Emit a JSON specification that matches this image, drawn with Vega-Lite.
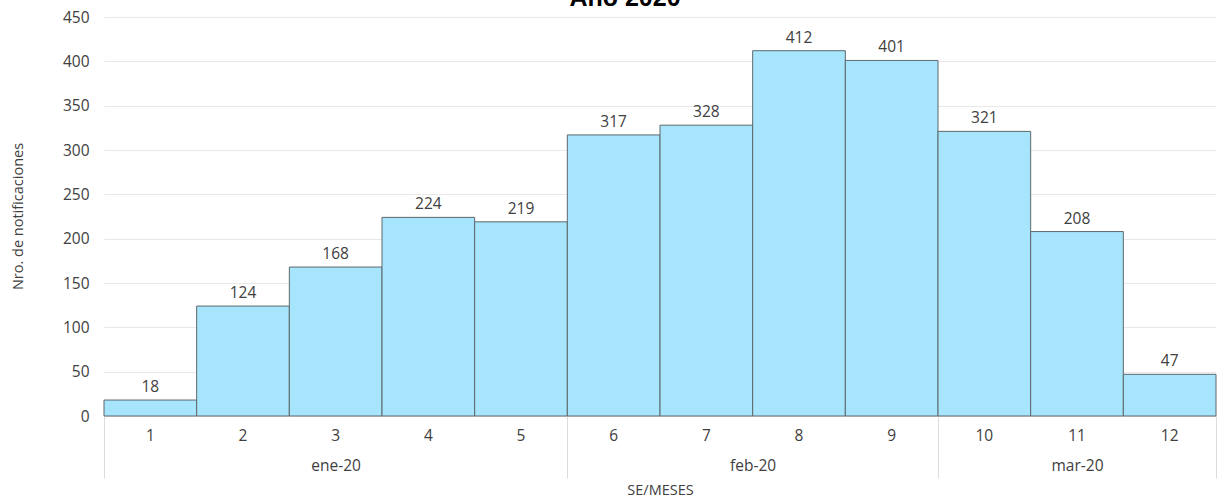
{
  "$schema": "https://vega.github.io/schema/vega-lite/v6.json",
  "autosize": {"type": "none"},
  "width": 1112,
  "height": 399,
  "padding": {"left": 104, "top": 17, "right": 1, "bottom": 84},
  "background": "white",
  "config": {
    "view": {"stroke": null},
    "font": "Open Sans",
    "axis": {"labelFont": "Open Sans", "titleFont": "Open Sans", "labelColor": "#404040", "titleColor": "#404040", "titleFontWeight": "normal"}
  },
  "title": {"text": "Año 2020", "font": "Liberation Sans", "fontSize": 25, "fontWeight": "bold", "color": "#000000", "anchor": "middle", "dx": -35, "offset": -1},
  "layer": [
    {
      "data": {"values": [
        {"semana": "1", "n": 18}, {"semana": "2", "n": 124}, {"semana": "3", "n": 168},
        {"semana": "4", "n": 224}, {"semana": "5", "n": 219}, {"semana": "6", "n": 317},
        {"semana": "7", "n": 328}, {"semana": "8", "n": 412}, {"semana": "9", "n": 401},
        {"semana": "10", "n": 321}, {"semana": "11", "n": 208}, {"semana": "12", "n": 47}
      ]},
      "encoding": {
        "x": {"field": "semana", "type": "nominal", "sort": null,
          "scale": {"paddingInner": 0, "paddingOuter": 0},
          "axis": {"orient": "bottom", "title": null, "labelAngle": 0, "ticks": false, "domain": false, "labelPadding": 12, "labelFontSize": 15.5, "labelBaseline": "top"}},
        "y": {"field": "n", "type": "quantitative",
          "scale": {"domain": [0, 450], "nice": false},
          "axis": {"values": [0, 50, 100, 150, 200, 250, 300, 350, 400, 450], "title": "Nro. de notificaciones", "titleFontSize": 14.5, "titleX": -86, "titleY": 199, "titleAngle": -90, "titleBaseline": "middle", "titleAlign": "center", "ticks": false, "domain": false, "labelPadding": 15, "labelFontSize": 15.5, "gridColor": "#e8e8e8", "gridWidth": 1}}
      },
      "layer": [
        {"mark": {"type": "bar", "fill": "#a6e5fb", "stroke": "#5d686d", "strokeWidth": 1}},
        {"mark": {"type": "text", "dy": -5, "fontSize": 15.5, "color": "#404040", "baseline": "bottom"},
         "encoding": {"text": {"field": "n", "type": "quantitative"}}}
      ]
    },
    {
      "data": {"values": [
        {"mes": "ene-20", "inicio": 0},
        {"mes": "feb-20", "inicio": 5},
        {"mes": "mar-20", "inicio": 9},
        {"mes": "fin", "inicio": 12}
      ]},
      "mark": {"type": "rule", "opacity": 0},
      "encoding": {
        "x": {"field": "inicio", "type": "quantitative",
          "scale": {"domain": [0, 12], "nice": false, "zero": false},
          "axis": {"orient": "bottom", "values": [0, 5, 9, 12], "labels": false, "domain": false, "grid": false, "ticks": true, "tickSize": 62, "tickColor": "#dcdcdc", "title": null}}
      }
    },
    {
      "data": {"values": [
        {"mes": "ene-20", "centro": 2.5},
        {"mes": "feb-20", "centro": 7},
        {"mes": "mar-20", "centro": 10.5}
      ]},
      "mark": {"type": "rule", "opacity": 0},
      "encoding": {
        "x": {"field": "centro", "type": "quantitative",
          "scale": {"domain": [0, 12], "nice": false, "zero": false},
          "axis": {"orient": "bottom", "values": [2.5, 7, 10.5], "labelExpr": "datum.value == 2.5 ? 'ene-20' : datum.value == 7 ? 'feb-20' : 'mar-20'", "domain": false, "grid": false, "ticks": false, "labelPadding": 42, "labelBaseline": "top", "labelFontSize": 15.5, "title": "SE/MESES", "titleFontSize": 14.5, "titleY": 74, "titleBaseline": "middle"}}
      }
    }
  ],
  "resolve": {"scale": {"x": "independent"}, "axis": {"x": "independent"}}
}
